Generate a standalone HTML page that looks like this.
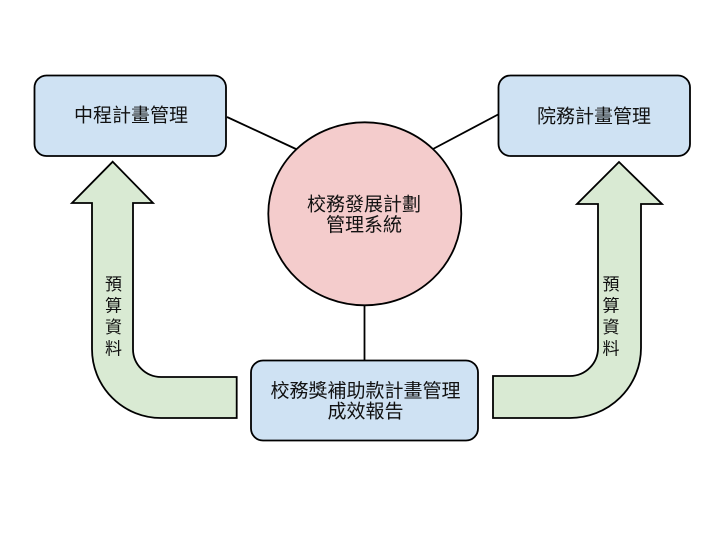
<!DOCTYPE html>
<html>
<head>
<meta charset="utf-8">
<style>
  html, body { margin: 0; padding: 0; background: #ffffff; }
  svg { display: block; }
  text { font-family: "Liberation Sans", "Noto Sans CJK TC", "Noto Sans CJK SC", sans-serif; fill: #111; }
</style>
</head>
<body>
<svg width="722" height="537" viewBox="0 0 722 537" xmlns="http://www.w3.org/2000/svg">
  <rect x="0" y="0" width="722" height="537" fill="#ffffff"/>

  <!-- connectors -->
  <line x1="227" y1="117" x2="297" y2="149.5" stroke="#000" stroke-width="1.8"/>
  <line x1="433" y1="149" x2="499" y2="114" stroke="#000" stroke-width="1.8"/>
  <line x1="364.5" y1="304" x2="364.5" y2="361" stroke="#000" stroke-width="1.8"/>

  <!-- left box -->
  <rect x="34.5" y="75.5" width="191.5" height="80.5" rx="12" ry="12" fill="#cfe2f3" stroke="#000" stroke-width="1.8"/>
  <text x="131" y="116" font-size="19" text-anchor="middle" dominant-baseline="central">中程計畫管理</text>

  <!-- right box -->
  <rect x="498.5" y="75.5" width="191.5" height="80.5" rx="12" ry="12" fill="#cfe2f3" stroke="#000" stroke-width="1.8"/>
  <text x="594" y="117" font-size="19" text-anchor="middle" dominant-baseline="central">院務計畫管理</text>

  <!-- center ellipse -->
  <ellipse cx="364.8" cy="213.8" rx="96.5" ry="91.5" fill="#f4cccc" stroke="#000" stroke-width="1.8"/>
  <text x="364" y="205" font-size="19" text-anchor="middle" dominant-baseline="central">校務發展計劃</text>
  <text x="364" y="225.5" font-size="19" text-anchor="middle" dominant-baseline="central">管理系統</text>

  <!-- bottom box -->
  <rect x="251" y="360.5" width="227" height="80" rx="12" ry="12" fill="#cfe2f3" stroke="#000" stroke-width="1.8"/>
  <text x="365.5" y="391.5" font-size="19" text-anchor="middle" dominant-baseline="central">校務獎補助款計畫管理</text>
  <text x="365.5" y="412" font-size="19" text-anchor="middle" dominant-baseline="central">成效報告</text>

  <!-- left arrow -->
  <path d="M 112.7 161.7 L 153 203 L 133 203 L 133 349 A 28 28 0 0 0 161 377 L 236.7 377 L 236.7 418 L 161 418 A 69 69 0 0 1 92 349 L 92 203 L 72 203 Z"
        fill="#d9ead3" stroke="#000" stroke-width="1.8" stroke-linejoin="miter"/>
  <g font-size="17" text-anchor="middle">
    <text x="113.5" y="284.5" dominant-baseline="central">預</text>
    <text x="113.5" y="306" dominant-baseline="central">算</text>
    <text x="113.5" y="327.5" dominant-baseline="central">資</text>
    <text x="113.5" y="349" dominant-baseline="central">料</text>
  </g>

  <!-- right arrow -->
  <path d="M 619 162 L 662 204 L 641 204 L 641 348 A 71 70 0 0 1 570 418 L 493 418 L 493 376 L 570 376 A 28 28 0 0 0 598 348 L 598 204 L 577 204 Z"
        fill="#d9ead3" stroke="#000" stroke-width="1.8" stroke-linejoin="miter"/>
  <g font-size="17" text-anchor="middle">
    <text x="611" y="284.5" dominant-baseline="central">預</text>
    <text x="611" y="306" dominant-baseline="central">算</text>
    <text x="611" y="327.5" dominant-baseline="central">資</text>
    <text x="611" y="349" dominant-baseline="central">料</text>
  </g>
</svg>
</body>
</html>
